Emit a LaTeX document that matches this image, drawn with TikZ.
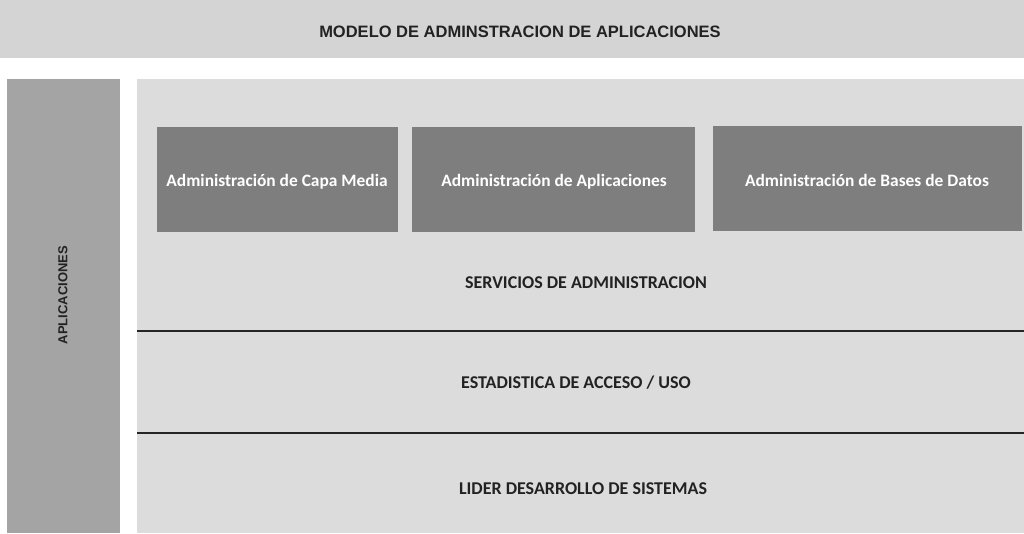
\documentclass[tikz,border=0pt]{standalone}
\usepackage{fontspec}
\setmainfont{Liberation Sans}
\newfontfamily\carl{Carlito}
\definecolor{bandgray}{HTML}{D4D4D4}
\definecolor{areagray}{HTML}{DCDCDC}
\definecolor{bargray}{HTML}{A4A4A4}
\definecolor{boxgray}{HTML}{7E7E7E}
\definecolor{txtdark}{HTML}{222222}
\begin{document}
\begin{tikzpicture}[x=1pt,y=-1pt,
  region/.style={draw=none,inner sep=0pt,outer sep=0pt},
  adminbox/.style={region,fill=boxgray},
  admintext/.style={text=white,inner sep=0pt,anchor=base,font=\carl\bfseries\fontsize{17.4}{20}\selectfont},
  layerlabel/.style={text=txtdark,inner sep=0pt,anchor=base,font=\carl\bfseries\fontsize{18}{21}\selectfont},
  sepline/.style={draw=black!85,line width=1.3pt}]
\useasboundingbox[fill=white] (0,0) rectangle (1024,533);
% title band
\fill[bandgray] (0,0) rectangle (1024,58);
\node[text=txtdark,inner sep=0pt,anchor=base,font=\bfseries\fontsize{16.5}{19}\selectfont] (title) at (520,37) {MODELO DE ADMINSTRACION DE APLICACIONES};
% left bar
\node[region,fill=bargray,minimum width=113pt,minimum height=454pt,anchor=north west] (bar) at (7,79) {};
\node[rotate=90,text=txtdark,inner sep=0pt,font=\bfseries\fontsize{13}{15}\selectfont] (barlabel) at (63,295) {APLICACIONES};
% main area
\node[region,fill=areagray,minimum width=887pt,minimum height=454pt,anchor=north west] (area) at (137,79) {};
% admin boxes
\node[adminbox,minimum width=241pt,minimum height=105pt,anchor=north west] (b1) at (157,127) {};
\node[admintext] (t1) at (277,186) {Administración de Capa Media};
\node[adminbox,minimum width=283pt,minimum height=105pt,anchor=north west] (b2) at (412,127) {};
\node[admintext] (t2) at (554,186) {Administración de Aplicaciones};
\node[adminbox,minimum width=309pt,minimum height=105pt,anchor=north west] (b3) at (713,126) {};
\node[admintext] (t3) at (867,186) {Administración de Bases de Datos};
% layer labels
\node[layerlabel] (l1) at (586,288) {SERVICIOS DE ADMINISTRACION};
\coordinate (s1a) at (137,331);
\coordinate (s1b) at (1024,331);
\draw[sepline] (s1a) -- (s1b);
\node[layerlabel] (l2) at (576,388) {ESTADISTICA DE ACCESO / USO};
\coordinate (s2a) at (137,433);
\coordinate (s2b) at (1024,433);
\draw[sepline] (s2a) -- (s2b);
\node[layerlabel] (l3) at (583,494) {LIDER DESARROLLO DE SISTEMAS};
\end{tikzpicture}
\end{document}
